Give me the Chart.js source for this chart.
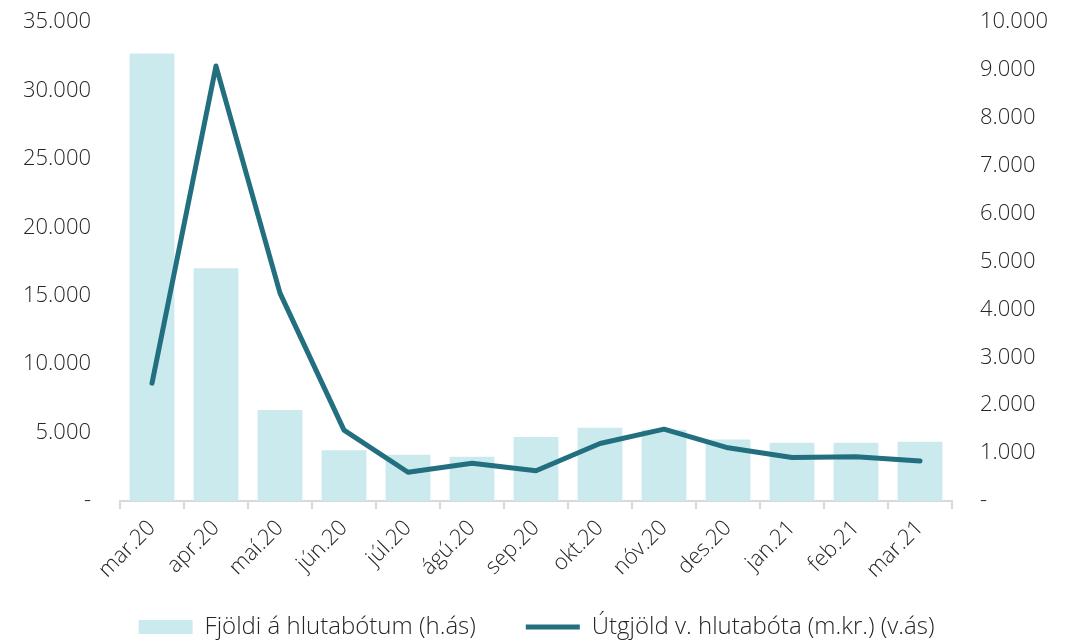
<!DOCTYPE html>
<html>
<head>
<meta charset="utf-8">
<script src="https://cdn.jsdelivr.net/npm/chart.js@4.4.1/dist/chart.umd.min.js"></script>
<style>
  html, body { margin: 0; padding: 0; background: #fff; }
  #wrap { width: 1073px; height: 640px; }
</style>
</head>
<body>
<div id="wrap"><canvas id="myChart"></canvas></div>
<script>
const labels = ['mar.20', 'apr.20', 'maí.20', 'jún.20', 'júl.20', 'ágú.20', 'sep.20',
    'okt.20', 'nóv.20', 'des.20', 'jan.21', 'feb.21', 'mar.21'];

// Fjöldi á hlutabótum (vinstri ás)
const fjoldi = [32700, 17000, 6650, 3700, 3380, 3240, 4670, 5350, 5200, 4500, 4260, 4260, 4330];

// Útgjöld vegna hlutabóta, m.kr. (hægri ás)
const utgjold = [2460, 9080, 4340, 1480, 600, 790, 630, 1200, 1500, 1110, 910, 925, 835];

const leftTicks = [0, 5000, 10000, 15000, 20000, 25000, 30000, 35000];
const rightTicks = [0, 1000, 2000, 3000, 4000, 5000, 6000, 7000, 8000, 9000, 10000];

const fontFamily = "'Open Sans', 'Noto Sans', sans-serif";
const textColor = '#262626';
const legendPad = 50;

function fmt(v) {
    if (v === 0) return '-';
    return String(v).replace(/\B(?=(\d{3})+(?!\d))/g, '.');
}

// færir skýringarnar neðar
const moveLegend = {
    id: 'moveLegend',
    afterLayout(chart) {
        const lg = chart.legend;
        lg.top = 627 - legendPad - 12;
        lg.bottom = chart.height;
    }
};

const ctx = document.getElementById('myChart');

new Chart(ctx, {
    type: 'bar',
    data: {
        labels: labels,
        datasets: [{
            type: 'bar',
            label: 'Fjöldi á hlutabótum (h.ás)',
            data: fjoldi,
            backgroundColor: '#cbeaee',
            borderWidth: 0,
            barPercentage: 0.7,
            categoryPercentage: 1,
            pointStyle: 'rect',
            yAxisID: 'y',
            order: 1
        }, {
            type: 'line',
            label: 'Útgjöld v. hlutabóta (m.kr.) (v.ás)',
            data: utgjold,
            borderColor: '#226f7f',
            backgroundColor: '#226f7f',
            borderWidth: 5,
            borderCapStyle: 'round',
            borderJoinStyle: 'round',
            tension: 0,
            pointRadius: 0,
            pointStyle: 'line',
            yAxisID: 'y1',
            order: 0
        }]
    },
    plugins: [moveLegend],
    options: {
        responsive: true,
        maintainAspectRatio: false,
        animation: false,
        layout: {
            padding: { top: 22, left: 0, right: 0, bottom: 0 }
        },
        plugins: {
            tooltip: { enabled: false },
            legend: {
                position: 'bottom',
                maxHeight: 40,
                labels: {
                    usePointStyle: true,
                    pointStyleWidth: 54,
                    boxHeight: 14,
                    padding: legendPad,
                    color: textColor,
                    font: { family: fontFamily, size: 24, weight: 300 },
                    sort: (a, b) => a.datasetIndex - b.datasetIndex
                }
            }
        },
        scales: {
            x: {
                offset: true,
                grid: {
                    display: true,
                    drawOnChartArea: false,
                    color: '#d9d9d9',
                    lineWidth: 2,
                    tickLength: 8
                },
                border: { color: '#d9d9d9', width: 2 },
                ticks: {
                    minRotation: 45,
                    maxRotation: 45,
                    padding: 6,
                    color: textColor,
                    font: { family: fontFamily, size: 22, weight: 300 }
                },
                afterFit: (scale) => { scale.height = 99; }
            },
            y: {
                position: 'left',
                min: 0,
                max: 35000,
                afterBuildTicks: (scale) => { scale.ticks = leftTicks.map(v => ({ value: v })); },
                grid: { display: false },
                border: { display: false },
                ticks: {
                    padding: 21,
                    color: textColor,
                    font: { family: fontFamily, size: 22, weight: 300 },
                    callback: (v) => fmt(v)
                },
                afterFit: (scale) => {
                    scale.width = 120;
                    scale.paddingTop = 0;
                    scale.paddingBottom = 0;
                }
            },
            y1: {
                position: 'right',
                min: 0,
                max: 10000,
                afterBuildTicks: (scale) => { scale.ticks = rightTicks.map(v => ({ value: v })); },
                grid: { display: false },
                border: { display: false },
                ticks: {
                    padding: 20,
                    color: textColor,
                    font: { family: fontFamily, size: 22, weight: 300 },
                    callback: (v) => fmt(v)
                },
                afterFit: (scale) => {
                    scale.width = 121;
                    scale.paddingTop = 0;
                    scale.paddingBottom = 0;
                }
            }
        }
    }
});
</script>
</body>
</html>
